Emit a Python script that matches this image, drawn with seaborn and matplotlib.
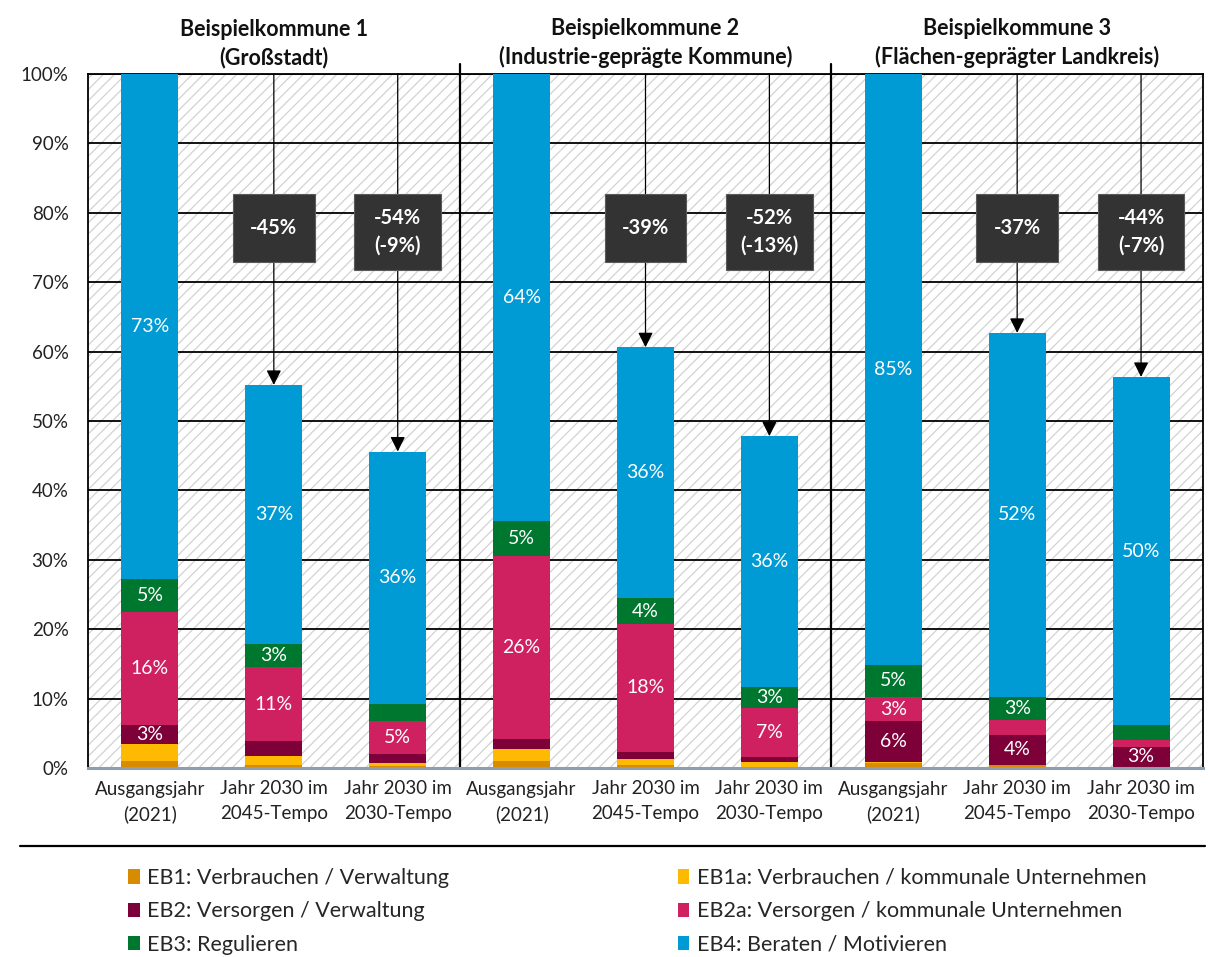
import numpy as np
import pandas as pd
import matplotlib
matplotlib.use("Agg")
import matplotlib.pyplot as plt
from matplotlib.patches import Rectangle, Patch
from matplotlib.lines import Line2D
import seaborn as sns

# --- data -------------------------------------------------------------
groups = ["Beispielkommune 1\n(Großstadt)",
          "Beispielkommune 2\n(Industrie-geprägte Kommune)",
          "Beispielkommune 3\n(Flächen-geprägter Landkreis)"]
scenarios = ["Ausgangsjahr\n(2021)", "Jahr 2030 im\n2045-Tempo", "Jahr 2030 im\n2030-Tempo"]

series = ["EB1: Verbrauchen / Verwaltung",
          "EB1a: Verbrauchen / kommunale Unternehmen",
          "EB2: Versorgen / Verwaltung",
          "EB2a: Versorgen / kommunale Unternehmen",
          "EB3: Regulieren",
          "EB4: Beraten / Motivieren"]
colors = ["#D98B00", "#FDBA00", "#7E0038", "#CF2160", "#00772F", "#009BD4"]

# shares in % of the base year, nine bars (3 municipalities x 3 scenarios)
eb1  = [1.0, 0.5, 0.3,   1.0, 0.43, 0.2,   0.7, 0.5, 0.15]
eb1a = [2.4, 1.3, 0.4,   1.8, 0.9, 0.65,   0.2, 0.0, 0.0]
eb2  = [2.8, 2.1, 1.35,  1.4, 1.0, 0.67,   5.9, 4.2, 2.9]
eb2a = [16.3, 10.6, 4.7, 26.4, 18.4, 7.1,  3.4, 2.2, 1.0]
eb3  = [4.7, 3.4, 2.45,  5.0, 3.7, 3.0,    4.7, 3.4, 2.1]
eb4  = [72.8, 37.3, 36.4, 64.4, 36.2, 36.2, 85.1, 52.4, 50.2]

values = [eb1, eb1a, eb2, eb2a, eb3, eb4]
label_min = 2.5  # segments below this share carry no label

# --- styling ----------------------------------------------------------
sns.set_theme(style="white")
plt.rcParams["font.family"] = ["Lato", "DejaVu Sans"]
plt.rcParams["hatch.linewidth"] = 0.9

FS = 13.5
W, H = 1210, 957
fig = plt.figure(figsize=(W / 100, H / 100), dpi=100)
ax = fig.add_axes([88 / W, 1 - 768 / H, (1203 - 88) / W, (768 - 74) / H])

bar_ids = [f"{g}|{s}" for g in range(len(groups)) for s in range(len(scenarios))]
n = len(bar_ids)

# hatched background
ax.add_patch(Rectangle((0, 0), 1, 1, transform=ax.transAxes, facecolor="white",
                       edgecolor="#D2D2D2", hatch="///", lw=0, zorder=0))

# stacked bars
bottom = np.zeros(n)
for name, vals, col in zip(series, values, colors):
    vals = np.asarray(vals, dtype=float)
    df = pd.DataFrame({"bar": bar_ids, "val": vals})
    sns.barplot(data=df, x="bar", y="val", order=bar_ids, color=col, saturation=1,
                width=0.46, bottom=bottom, linewidth=0, ax=ax, zorder=3)
    for i, v in enumerate(vals):
        if v >= label_min:
            ax.text(i, bottom[i] + v / 2, f"{round(v)}%", ha="center", va="center",
                    color="white", fontsize=14, zorder=5)
    bottom = bottom + vals
totals = bottom

ax.set_xlim(-0.5, n - 0.5)
ax.set_ylim(0, 100)

# gridlines and frame
ax.set_yticks(np.arange(0, 101, 10))
ax.set_yticklabels([f"{t}%" for t in range(0, 101, 10)], fontsize=FS, color="#222222")
ax.yaxis.grid(True, color="black", lw=1.3, zorder=1)
ax.set_axisbelow(True)
ax.tick_params(axis="y", length=0, pad=14)

ax.set_xticks(range(n))
ax.set_xticklabels(scenarios * len(groups), fontsize=FS, color="#222222", linespacing=1.5)
ax.tick_params(axis="x", length=0, pad=9)
ax.set_xticks([-0.5, 2.5, 5.5, 8.5], minor=True)
ax.tick_params(axis="x", which="minor", length=6, width=1.5, color="#8E9DB0", direction="out")
ax.set_xlabel("")
ax.set_ylabel("")

for side in ["left", "top", "right"]:
    ax.spines[side].set_visible(True)
    ax.spines[side].set_color("black")
    ax.spines[side].set_linewidth(1.3)
ax.spines["bottom"].set_color("#8E9DB0")
ax.spines["bottom"].set_linewidth(2.2)
ax.spines["bottom"].set_zorder(6)

# group separators
for xs in [2.5, 5.5]:
    ax.plot([xs, xs], [0, 101.5], color="black", lw=1.6, clip_on=False, zorder=4)

# group titles
for g, title in enumerate(groups):
    ax.text(g * 3 + 1, 100.8, title, ha="center", va="bottom", fontsize=15.5,
            fontweight="bold", color="#111111", linespacing=1.4, clip_on=False)

# reduction callouts for the 2030 bars
for g in range(len(groups)):
    base = totals[g * 3]
    change = [round(totals[g * 3 + k] / base * 100 - 100) for k in (1, 2)]
    for k in (1, 2):
        i = g * 3 + k
        ax.annotate("", xy=(i, totals[i]), xytext=(i, 100),
                    arrowprops=dict(arrowstyle="-|>,head_length=0.9,head_width=0.45",
                                    color="black", lw=0.9, shrinkA=0, shrinkB=0,
                                    mutation_scale=10),
                    zorder=4)
        if k == 1:
            txt = f"{change[0]}%"
            bw, b0, b1 = 0.66, 72.9, 82.7
        else:
            txt = f"{change[1]}%\n({change[1] - change[0]}%)"
            bw, b0, b1 = 0.70, 71.8, 82.7
        ax.add_patch(Rectangle((i - bw / 2, b0), bw, b1 - b0, facecolor="#333333",
                               edgecolor="#5A5A5A", lw=0.8, zorder=6))
        ax.text(i, (b0 + b1) / 2, txt, ha="center", va="center", color="white",
                fontsize=14.5, fontweight="bold", linespacing=1.5, zorder=7)

# separator line above the legend
fig.add_artist(Line2D([20 / W, 1205 / W], [1 - 846 / H] * 2, color="black", lw=1.6))

# legend
handles = [Patch(facecolor=c, edgecolor="none") for c in colors]
order = [0, 2, 4, 1, 3, 5]
fig.legend([handles[i] for i in order], [series[i] for i in order],
           loc="upper left", bbox_to_anchor=(128 / W, 1 - 868 / H), ncol=2,
           frameon=False, fontsize=15.5, handlelength=0.55, handleheight=0.65,
           handletextpad=0.35, columnspacing=10.6, labelspacing=0.62, borderpad=0,
           borderaxespad=0)

fig.savefig("out.png", dpi=100)
